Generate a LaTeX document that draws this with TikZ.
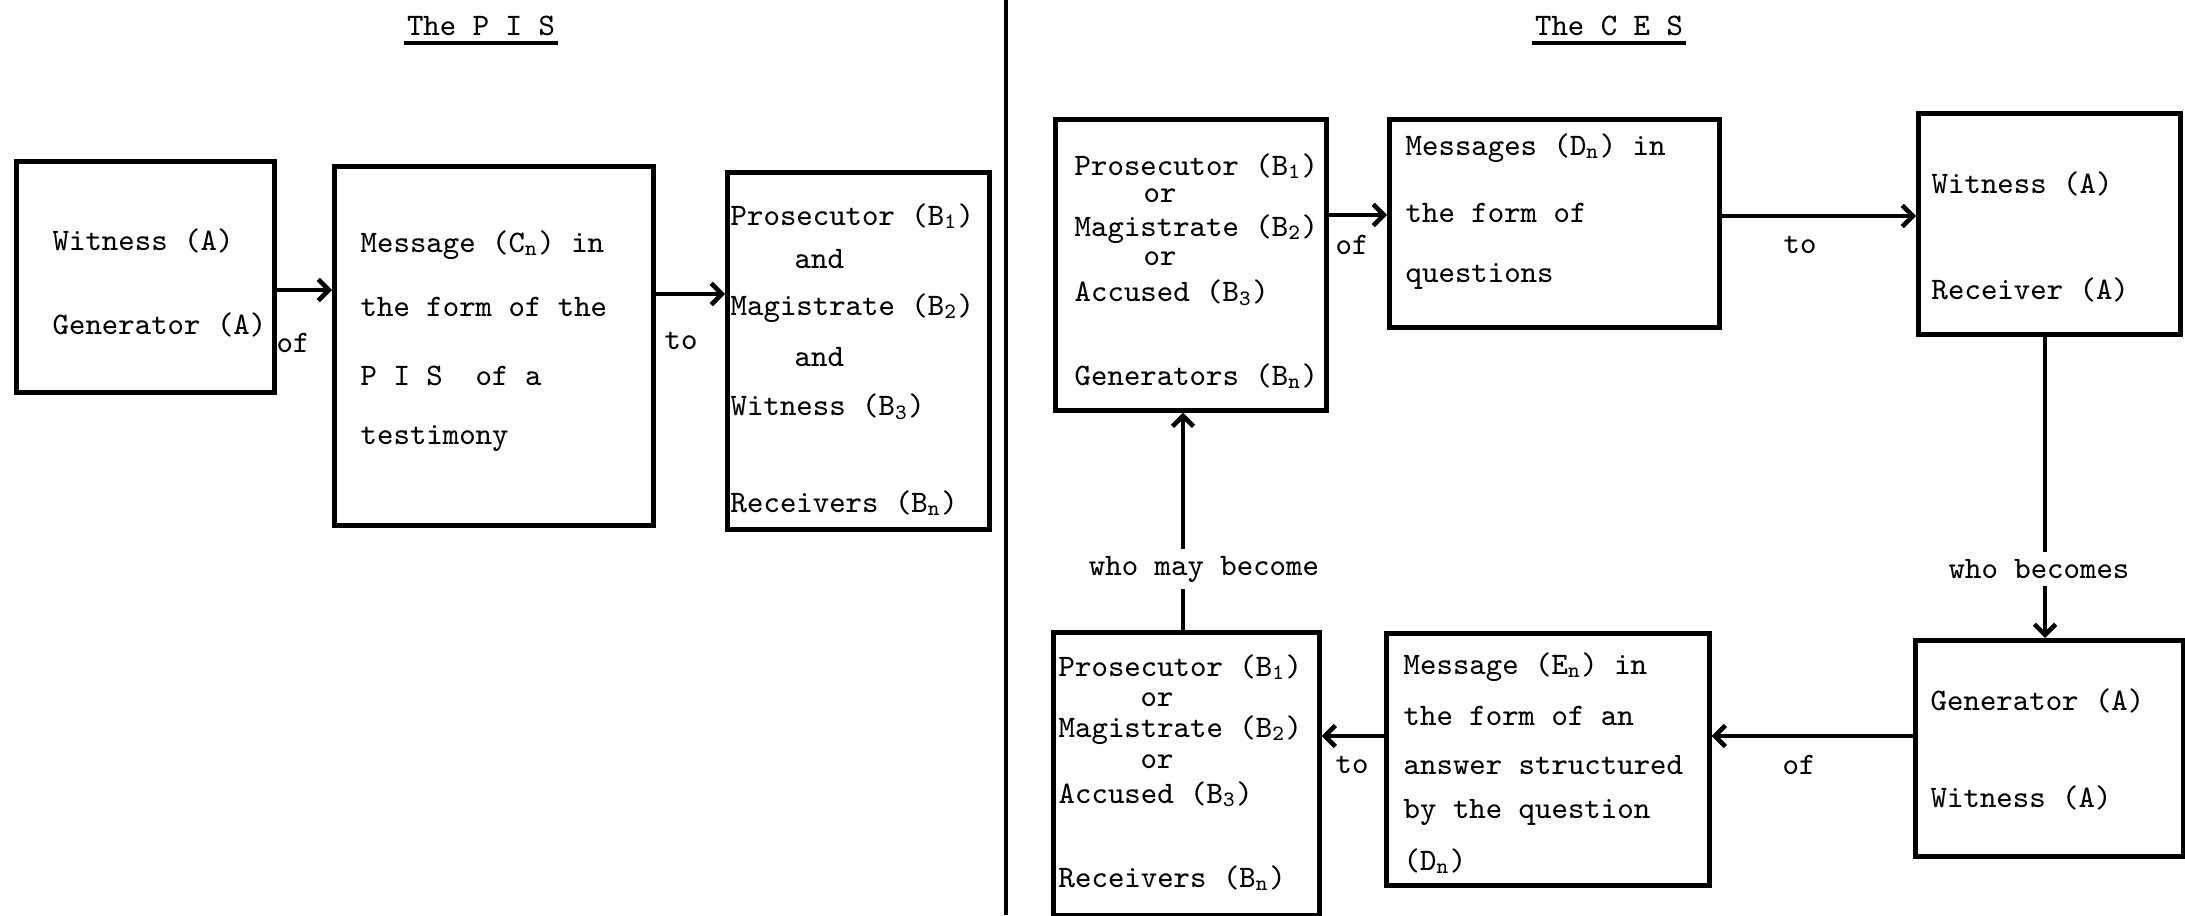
\documentclass[tikz,border=0pt]{standalone}
\usetikzlibrary{arrows.meta,calc}
\newcommand{\sbs}[1]{\textsubscript{#1}}
% box from (x1,y1) to (x2,y2), pixel-like units, y running downwards
\newcommand{\pbox}[5]{\node[box, minimum width={(#4-#2)*0.01cm}, minimum height={(#5-#3)*0.01cm}] (#1) at (#2,#3) {};}
\begin{document}
\begin{tikzpicture}[x=0.01cm,y=-0.01cm,
  every node/.style={font=\fontsize{8.9}{10}\selectfont\ttfamily},
  box/.style={draw, line width=1.3pt, rectangle, inner sep=0pt, anchor=north west},
  txt/.style={anchor=west, inner sep=0pt},
  ttl/.style={anchor=base, inner sep=0pt},
  lbl/.style={inner sep=0pt},
  cut/.style={inner sep=2pt, fill=white},
  uline/.style={line width=0.9pt},
  rule/.style={line width=1.3pt},
  conn/.style={line width=1.3pt, -{Straight Barb[length=3pt,width=6pt]}},
]
\useasboundingbox (0,0) rectangle (2185,915);

% ---------- separating rule ----------
\coordinate (divtop) at (1006,0);
\coordinate (divbot) at (1006,915);
\draw[rule] (divtop) -- (divbot);

% ---------- The P I S ----------
\node[ttl] (tpis) at (481,35) {The P I S};
\draw[uline] ($(tpis.base west)+(-2,8)$) -- ($(tpis.base east)+(2,8)$);

\pbox{wa}{14}{159}{272}{390}
\node[txt] (wa1) at (52,241) {Witness (A)};
\node[txt] (wa2) at (52,325) {Generator (A)};

\pbox{mc}{332}{164}{651}{523}
\node[txt] (mc1) at (360,245) {Message (C\sbs{n}) in};
\node[txt] (mc2) at (360,307) {the form of the};
\node[txt] (mc3) at (360,376) {P I S\ \ of a};
\node[txt] (mc4) at (360,439) {testimony};

\pbox{rb}{725}{170}{987}{527}
\node[txt] (rb1) at (730,216) {Prosecutor (B\sbs{1})};
\node[txt] (rb2) at (794,259) {and};
\node[txt] (rb3) at (730,308) {Magistrate (B\sbs{2})};
\node[txt] (rb4) at (794,357) {and};
\node[txt] (rb5) at (730,407) {Witness (B\sbs{3})};
\node[txt] (rb6) at (730,503) {Receivers (B\sbs{n})};

\coordinate (ya) at (0,290);
\coordinate (yb) at (0,294);
\draw[conn] (wa.east |- ya) -- (mc.west |- ya);
\draw[conn] (mc.east |- yb) -- (rb.west |- yb);
\node[lbl] (of1) at (293,343) {of};
\node[lbl] (to1) at (681,341) {to};

% ---------- The C E S ----------
\node[ttl] (tces) at (1609,35) {The C E S};
\draw[uline] ($(tces.base west)+(-2,8)$) -- ($(tces.base east)+(2,8)$);

\pbox{gq}{1053}{117}{1324}{408}
\node[txt] (gq1) at (1074,166) {Prosecutor (B\sbs{1})};
\node[txt] (gq2) at (1143,196) {or};
\node[txt] (gq3) at (1074,229) {Magistrate (B\sbs{2})};
\node[txt] (gq4) at (1143,259) {or};
\node[txt] (gq5) at (1074,293) {Accused (B\sbs{3})};
\node[txt] (gq6) at (1074,376) {Generators (B\sbs{n})};

\pbox{md}{1387}{117}{1717}{325}
\node[txt] (md1) at (1405,148) {Messages (D\sbs{n}) in};
\node[txt] (md2) at (1405,213) {the form of};
\node[txt] (md3) at (1405,276) {questions};

\pbox{wr}{1916}{111}{2178}{332}
\node[txt] (wr1) at (1931,184) {Witness (A)};
\node[txt] (wr2) at (1931,290) {Receiver (A)};

\pbox{gw}{1913}{638}{2181}{854}
\node[txt] (gw1) at (1930,701) {Generator (A)};
\node[txt] (gw2) at (1930,798) {Witness (A)};

\pbox{me}{1384}{631}{1707}{883}
\node[txt] (me1) at (1403,667) {Message (E\sbs{n}) in};
\node[txt] (me2) at (1403,716) {the form of an};
\node[txt] (me3) at (1403,765) {answer structured};
\node[txt] (me4) at (1403,812) {by the question};
\node[txt] (me5) at (1403,861) {(D\sbs{n})};

\pbox{rr}{1051}{630}{1317}{913}
\node[txt] (rr1) at (1058,667) {Prosecutor (B\sbs{1})};
\node[txt] (rr2) at (1140,700) {or};
\node[txt] (rr3) at (1058,730) {Magistrate (B\sbs{2})};
\node[txt] (rr4) at (1140,762) {or};
\node[txt] (rr5) at (1058,794) {Accused (B\sbs{3})};
\node[txt] (rr6) at (1058,878) {Receivers (B\sbs{n})};

% horizontal connectors
\coordinate (yc) at (0,215);
\coordinate (yd) at (0,216);
\coordinate (ye) at (0,736);
\draw[conn] (gq.east |- yc) -- (md.west |- yc);
\draw[conn] (md.east |- yd) -- (wr.west |- yd);
\draw[conn] (gw.west |- ye) -- (me.east |- ye);
\draw[conn] (me.west |- ye) -- (rr.east |- ye);
\node[lbl] (of2) at (1352,245) {of};
\node[lbl] (to2) at (1800,245) {to};
\node[lbl] (of3) at (1799,765) {of};
\node[lbl] (to3) at (1352,765) {to};

% vertical connectors
\coordinate (xr) at (2045,0);
\coordinate (xl) at (1183,0);
\draw[conn] (xr |- wr.south) -- (xr |- gw.north);
\draw[conn] (xl |- rr.north) -- (xl |- gq.south);
\node[cut] (wb) at (2039,569) {who becomes};
\node[cut] (wmb) at (1204,569) {who may become};
\end{tikzpicture}
\end{document}
